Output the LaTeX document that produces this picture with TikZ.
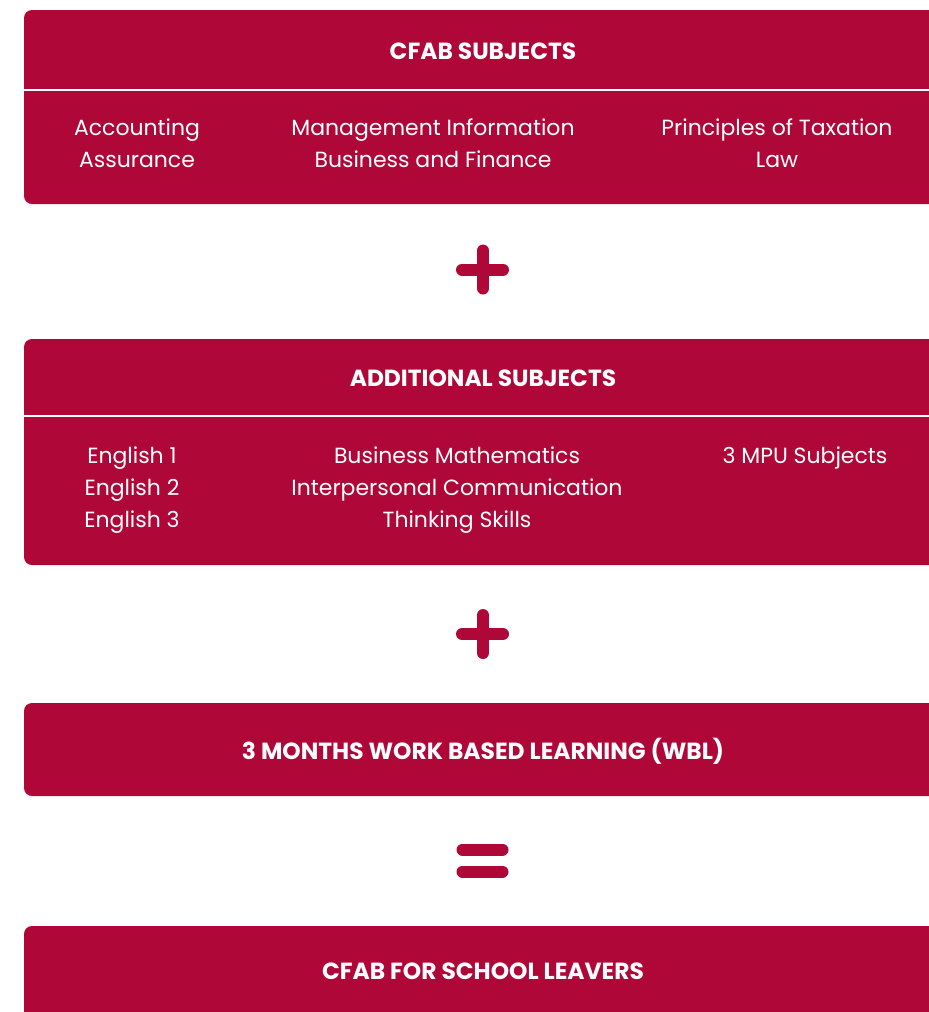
\documentclass[tikz,border=0pt]{standalone}
\usepackage{fontspec}
\setmainfont{Poppins}
\definecolor{cfabred}{RGB}{175,7,56}
\begin{document}
\begin{tikzpicture}[x=0.02cm,y=-0.02cm,
	panel/.style = {fill=cfabred, rounded corners=8*0.02cm},
	head/.style = {text=white, font=\bfseries\fontsize{13.3}{16}\selectfont},
	item/.style = {text=white, align=center, font=\fontsize{12.5}{18.2}\selectfont},
	sign/.style = {cfabred, line width=12*0.02cm, line cap=round}]

	\useasboundingbox (0,0) rectangle (929,1012);
	\clip (0,0) rectangle (929,1012);

	% boxes
	\fill[panel] (24,10) rectangle (980,204);
	\fill[panel] (24,339) rectangle (980,565);
	\fill[panel] (24,703) rectangle (980,796);
	\fill[panel] (24,926) rectangle (980,1100);
	\draw[white, line width=2*0.02cm] (24,89.5) -- (980,89.5);
	\draw[white, line width=2*0.02cm] (24,415.5) -- (980,415.5);

	% first block
	\node[head] (cfab) at (483,51) {CFAB SUBJECTS};
	\node[item] (acc) at (137,143) {Accounting\\Assurance};
	\node[item] (mi) at (433,143) {Management Information\\Business and Finance};
	\node[item] (tax) at (777,143) {Principles of Taxation\\Law};

	% second block
	\node[head] (addl) at (483,378) {ADDITIONAL SUBJECTS};
	\node[item] (eng) at (132,490) {English 1\\English 2\\English 3};
	\node[item] (bm) at (457,490) {Business Mathematics\\Interpersonal Communication\\Thinking Skills};
	\node[item] (mpu) at (805,458) {3 MPU Subjects};

	\node[head] (wbl) at (483,751) {3 MONTHS WORK BASED LEARNING (WBL)};
	\node[head] (leavers) at (483,971) {CFAB FOR SCHOOL LEAVERS};

	% plus and equals
	\foreach \y in {269.5,634} {
		\draw[sign] (462,\y) -- (503,\y);
		\draw[sign] (483,\y-19) -- (483,\y+19);
	}
	\draw[sign] (462.5,849.5) -- (502.5,849.5);
	\draw[sign] (462.5,871.5) -- (502.5,871.5);

\end{tikzpicture}
\end{document}
